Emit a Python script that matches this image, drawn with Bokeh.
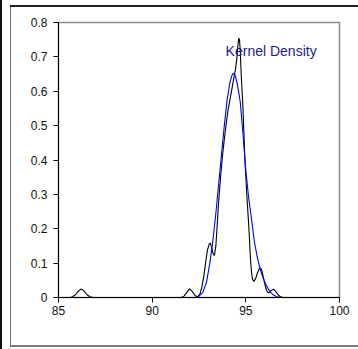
from bokeh.plotting import figure
from bokeh.models import FixedTicker, Range1d, Label, InlineStyleSheet
from bokeh.embed import file_html
from bokeh.resources import INLINE

black_x = [85.6, 85.75, 85.9, 86.05, 86.22, 86.38, 86.52, 86.68, 86.85,
           91.55, 91.7, 91.85, 92.0, 92.15, 92.3, 92.42, 92.55, 92.65, 92.75,
           92.85, 92.95, 93.05, 93.1, 93.18, 93.25, 93.32, 93.4, 93.47, 93.55,
           93.65, 93.75, 93.85, 93.95, 94.05, 94.15, 94.25, 94.35, 94.45, 94.52,
           94.57, 94.62, 94.66, 94.7, 94.76, 94.84, 94.95, 95.05, 95.16, 95.24,
           95.3, 95.36, 95.43, 95.52, 95.62, 95.72, 95.79, 95.86, 95.95, 96.05,
           96.15, 96.25, 96.35, 96.48, 96.6, 96.72, 96.85, 97.0]
black_y = [0.0, 0.002, 0.008, 0.018, 0.025, 0.018, 0.008, 0.002, 0.0,
           0.0, 0.004, 0.015, 0.025, 0.017, 0.005, 0.002, 0.01, 0.03, 0.06,
           0.1, 0.138, 0.156, 0.158, 0.145, 0.128, 0.122, 0.15, 0.21, 0.28,
           0.35, 0.41, 0.46, 0.505, 0.545, 0.575, 0.605, 0.635, 0.665, 0.695,
           0.73, 0.755, 0.75, 0.72, 0.64, 0.56, 0.40, 0.30, 0.205, 0.12,
           0.075, 0.052, 0.047, 0.055, 0.072, 0.084, 0.086, 0.078, 0.055, 0.03,
           0.016, 0.014, 0.02, 0.024, 0.018, 0.008, 0.002, 0.0]

blue_x = [85.6, 92.3, 92.5, 92.7, 92.9, 93.08, 93.25, 93.4, 93.55, 93.7, 93.85,
          94.0, 94.15, 94.25, 94.33, 94.42, 94.55, 94.7, 94.85, 95.0, 95.15,
          95.3, 95.45, 95.6, 95.75, 95.9, 96.05, 96.25, 96.45, 96.65, 96.9, 97.05]
blue_y = [0.0, 0.0, 0.004, 0.014, 0.045, 0.1, 0.17, 0.245, 0.33, 0.415, 0.5,
          0.575, 0.625, 0.645, 0.652, 0.648, 0.62, 0.57, 0.475, 0.37, 0.29,
          0.23, 0.165, 0.12, 0.085, 0.06, 0.04, 0.02, 0.008, 0.002, 0.0, 0.0]

x_ticks = [85, 90, 95, 100]
y_ticks = [0, 0.1, 0.2, 0.3, 0.4, 0.5, 0.6, 0.7, 0.8]
y_tick_labels = ["0", "0.1", "0.2", "0.3", "0.4", "0.5", "0.6", "0.7", "0.8"]
series_label = "Kernel Density"

frame_css = """
:host {
  background:
    linear-gradient(#111111, #111111) 0px 0px / 2px 349px no-repeat,
    linear-gradient(#222222, #222222) 10px 5px / 348px 2px no-repeat,
    linear-gradient(#6a6a6a, #6a6a6a) 10px 5px / 1px 342px no-repeat,
    linear-gradient(#7a7a7a, #7a7a7a) 10px 345px / 348px 2px no-repeat,
    #ffffff;
}
"""

p = figure(width=358, height=349, output_backend="svg", toolbar_location=None,
           x_range=Range1d(85, 100), y_range=Range1d(0, 0.8),
           min_border_left=58, min_border_right=19, min_border_top=22, min_border_bottom=52)
p.stylesheets = [InlineStyleSheet(css=frame_css)]
p.background_fill_color = "white"
p.border_fill_color = "white"
p.border_fill_alpha = 0
p.outline_line_color = "#8c8c8c"
p.outline_line_width = 1.5
p.xgrid.visible = False
p.ygrid.visible = False

for ax in (p.xaxis, p.yaxis):
    ax.axis_line_color = "black"
    ax.major_tick_line_color = "black"
    ax.minor_tick_line_color = None
    ax.major_tick_out = 5
    ax.major_tick_in = 0
    ax.major_label_text_font = "Liberation Sans"
    ax.major_label_text_font_size = "12px"
    ax.major_label_text_color = "#111111"

p.xaxis.ticker = FixedTicker(ticks=x_ticks)
p.yaxis.ticker = FixedTicker(ticks=y_ticks)
p.yaxis.major_label_overrides = {t: l for t, l in zip(y_ticks, y_tick_labels)}
p.xaxis.major_label_standoff = 3
p.yaxis.major_label_standoff = 6

p.line(black_x, black_y, line_color="black", line_width=1.1)
p.line(blue_x, blue_y, line_color="#0000ff", line_width=1.1)

p.add_layout(Label(x=93.92, y=0.7185, text=series_label, text_color="#1c1c8c",
                   text_font="Liberation Sans", text_font_size="14px",
                   text_baseline="alphabetic"))

open("out.html", "w").write(file_html(p, INLINE))
